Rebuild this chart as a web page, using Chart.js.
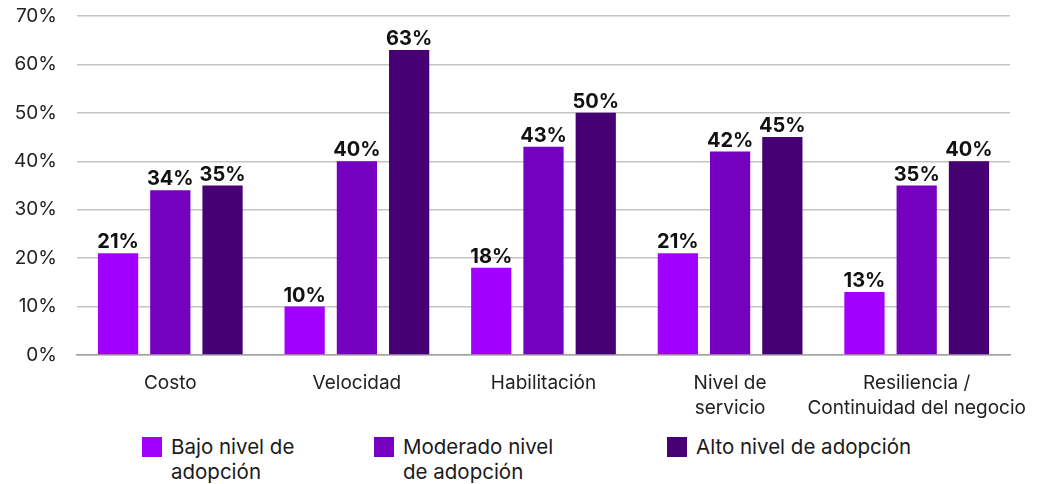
<!DOCTYPE html>
<html>
<head>
<meta charset="utf-8">
<script src="https://cdn.jsdelivr.net/npm/chart.js@4"></script>
<style>
  body { margin: 0; background: #fff; font-family: Inter, Roboto, sans-serif; }
  #wrap { position: relative; width: 1046px; height: 484px; }
  #chart { position: absolute; left: 0; top: 0; }
  .legend-item { position: absolute; top: 434px; display: flex; align-items: flex-start; font-size: 20.5px; line-height: 25px; color: #1a1a1a; }
  .legend-item span.box { width: 20px; height: 20px; margin-right: 9px; margin-top: 3px; flex: none; }
</style>
</head>
<body>
<div id="wrap">
  <canvas id="chart" width="1046" height="425"></canvas>
  <div class="legend-item" style="left:142px"><span class="box" style="background:#A100FF"></span><span>Bajo nivel de<br>adopción</span></div>
  <div class="legend-item" style="left:374px"><span class="box" style="background:#7500C0"></span><span>Moderado nivel<br>de adopción</span></div>
  <div class="legend-item" style="left:667px"><span class="box" style="background:#460073"></span><span>Alto nivel de adopción</span></div>
</div>
<script>
// Categories and series
const categories = ['Costo', 'Velocidad', 'Habilitación', ['Nivel de', 'servicio'], ['Resiliencia /', 'Continuidad del negocio']];
const seriesNames = ['Bajo nivel de adopción', 'Moderado nivel de adopción', 'Alto nivel de adopción'];
const bajo = [21, 10, 18, 21, 13];
const moderado = [34, 40, 43, 42, 35];
const alto = [35, 63, 50, 45, 40];
const yTicks = [0, 10, 20, 30, 40, 50, 60, 70];

const colors = ['#A100FF', '#7500C0', '#460073'];

// Draw value labels above each bar
const valueLabels = {
    id: 'valueLabels',
    afterDatasetsDraw(chart) {
        const ctx = chart.ctx;
        ctx.save();
        ctx.font = 'bold 20px Inter, Roboto, sans-serif';
        ctx.fillStyle = '#111';
        ctx.textAlign = 'center';
        ctx.textBaseline = 'alphabetic';
        chart.data.datasets.forEach((ds, i) => {
            chart.getDatasetMeta(i).data.forEach((bar, j) => {
                ctx.fillText(ds.data[j] + '%', bar.x, bar.y - 5);
            });
        });
        ctx.restore();
    }
};

new Chart(document.getElementById('chart'), {
    type: 'bar',
    data: {
        labels: categories,
        datasets: [
            { label: seriesNames[0], data: bajo, backgroundColor: colors[0] },
            { label: seriesNames[1], data: moderado, backgroundColor: colors[1] },
            { label: seriesNames[2], data: alto, backgroundColor: colors[2] }
        ]
    },
    options: {
        responsive: false,
        animation: false,
        categoryPercentage: 0.84,
        barPercentage: 0.77,
        layout: { padding: { top: 16, right: 36, left: 0, bottom: 0 } },
        plugins: {
            legend: { display: false },
            tooltip: { enabled: false }
        },
        scales: {
            x: {
                grid: { display: false },
                border: { color: '#a0a0a0', width: 1.5 },
                ticks: {
                    color: '#222',
                    font: { family: 'Inter, Roboto, sans-serif', size: 19, lineHeight: 1.3 },
                    padding: 8,
                    maxRotation: 0,
                    minRotation: 0,
                    autoSkip: false
                },
                afterFit(scale) { scale.height = 70; }
            },
            y: {
                min: 0,
                max: 70,
                afterBuildTicks(scale) { scale.ticks = yTicks.map(v => ({ value: v })); },
                grid: { color: '#c4c4c4', lineWidth: 1.5, drawTicks: false },
                border: { display: false },
                ticks: {
                    color: '#222',
                    font: { family: 'Inter, Roboto, sans-serif', size: 19 },
                    padding: 20,
                    callback: v => v + '%'
                },
                afterFit(scale) {
                    scale.width = 77;
                    // let layout padding decide the top edge
                    scale.paddingTop = 0;
                    scale.paddingBottom = 0;
                }
            }
        }
    },
    plugins: [valueLabels]
});
</script>
</body>
</html>
